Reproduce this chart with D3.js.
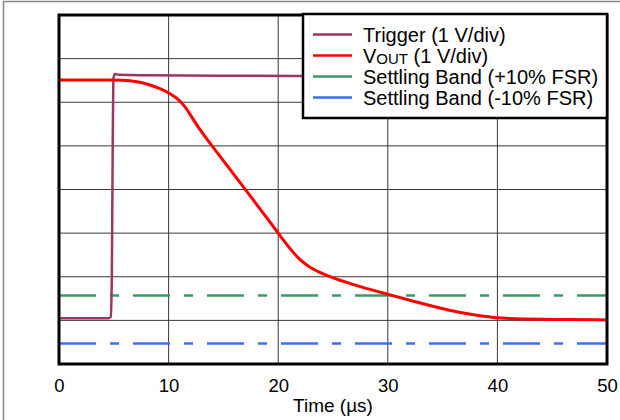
<!DOCTYPE html>
<html><head><meta charset="utf-8">
<script src="https://cdn.jsdelivr.net/npm/d3@7"></script>
<style>body{margin:0;background:#fff}svg{display:block}text{font-family:"Liberation Sans",Arial,sans-serif}</style>
</head><body><svg id="c" width="620" height="420"></svg>
<script>
// time in µs, values in divisions
const xTicks = [0,10,20,30,40,50];
const triggerT = [0,4.55,4.72,4.82,4.9,4.97,5.1,5.5,8,15,22,30,40,50];
const triggerV = [1.05,1.05,1.08,2.0,5.0,6.55,6.65,6.63,6.62,6.61,6.6,6.6,6.6,6.6];
const voutT = [0,5.5,6.5,7.4,8.3,9.2,10.1,11.0,11.7,12.6,14.05,15.6,17.15,19.0,20.0,21.1,22.0,22.9,23.8,25.0,27.5,30.0,32.9,35.7,38.0,39.3,40.2,42.1,45.7,50];
const voutV = [6.51,6.51,6.50,6.46,6.40,6.32,6.21,6.05,5.84,5.45,4.97,4.46,3.95,3.34,3.00,2.63,2.38,2.21,2.10,1.97,1.77,1.60,1.40,1.22,1.12,1.08,1.05,1.03,1.02,1.01];
const bandPlus = 1.57, bandMinus = 0.47;
const legendLabels = ["Trigger (1 V/div)","VOUT (1 V/div)","Settling Band (+10% FSR)","Settling Band (-10% FSR)"];
const colors = ["#9c3566","#ff0000","#3a9a66","#3f6ff0"];

const svg = d3.select("#c");
const L=59,R=607,T=15,B=364;
const x = d3.scaleLinear().domain([0,50]).range([L,R]);
const y = d3.scaleLinear().domain([0,8]).range([B,T]);

svg.append("rect").attr("x",3.5).attr("y",1.5).attr("width",640).attr("height",440)
  .attr("fill","none").attr("stroke","#888").attr("stroke-width",1.5);

// grid
const g = svg.append("g");
g.selectAll("line.v").data(d3.range(0,51,10)).join("line")
  .attr("x1",d=>x(d)).attr("x2",d=>x(d)).attr("y1",T).attr("y2",B)
  .attr("stroke","#3a3a3a").attr("stroke-width",1);
g.selectAll("line.h").data(d3.range(0,9)).join("line")
  .attr("y1",d=>y(d)).attr("y2",d=>y(d)).attr("x1",L).attr("x2",R)
  .attr("stroke","#3a3a3a").attr("stroke-width",1);

// axis labels
const ax = d3.axisBottom(x).tickValues(xTicks).tickSize(0).tickPadding(0);
const axg = svg.append("g").attr("transform",`translate(0,${B})`).call(ax);
axg.select(".domain").remove();
axg.selectAll("text").attr("font-size",18.5).attr("fill","#000")
  .attr("font-family","Liberation Sans, Arial, sans-serif").attr("dy",null).attr("y",28);

svg.append("text").attr("x",333).attr("y",412).attr("text-anchor","middle")
  .attr("font-size",19).text("Time (µs)");

// bands
[[bandPlus,colors[2]],[bandMinus,colors[3]]].forEach(([v,c])=>{
  svg.append("line").attr("x1",x(0)).attr("x2",x(50)).attr("y1",y(v)).attr("y2",y(v))
    .attr("stroke",c).attr("stroke-width",2.5).attr("stroke-dasharray","37,14,9,14");
});

const line = d3.line().x(d=>x(d[0])).y(d=>y(d[1]));
svg.append("path").datum(triggerT.map((t,i)=>[t,triggerV[i]]))
  .attr("d",line.curve(d3.curveMonotoneX)).attr("fill","none").attr("stroke",colors[0]).attr("stroke-width",2.5);
svg.append("path").datum(voutT.map((t,i)=>[t,voutV[i]]))
  .attr("d",line.curve(d3.curveBasis)).attr("fill","none").attr("stroke",colors[1]).attr("stroke-width",3);

// plot frame
svg.append("rect").attr("x",L).attr("y",T).attr("width",R-L).attr("height",B-T)
  .attr("fill","none").attr("stroke","#000").attr("stroke-width",3);

// legend
const lg = svg.append("g");
lg.append("rect").attr("x",303).attr("y",14).attr("width",304).attr("height",104)
  .attr("fill","#fff").attr("stroke","#000").attr("stroke-width",2.5);
legendLabels.forEach((lab,i)=>{
  const cy = 34.5 + i*21;
  lg.append("line").attr("x1",313).attr("x2",352).attr("y1",cy).attr("y2",cy)
    .attr("stroke",colors[i]).attr("stroke-width",2.5);
  const t = lg.append("text").attr("x",363).attr("y",cy+7).attr("font-size",20).attr("fill","#000");
  if (lab.startsWith("VOUT")) {
    t.append("tspan").text("V");
    t.append("tspan").attr("font-size",15).attr("dy",1.5).text("OUT");
    t.append("tspan").attr("dy",-1.5).text(lab.slice(4));
  } else t.text(lab);
});
</script></body></html>
